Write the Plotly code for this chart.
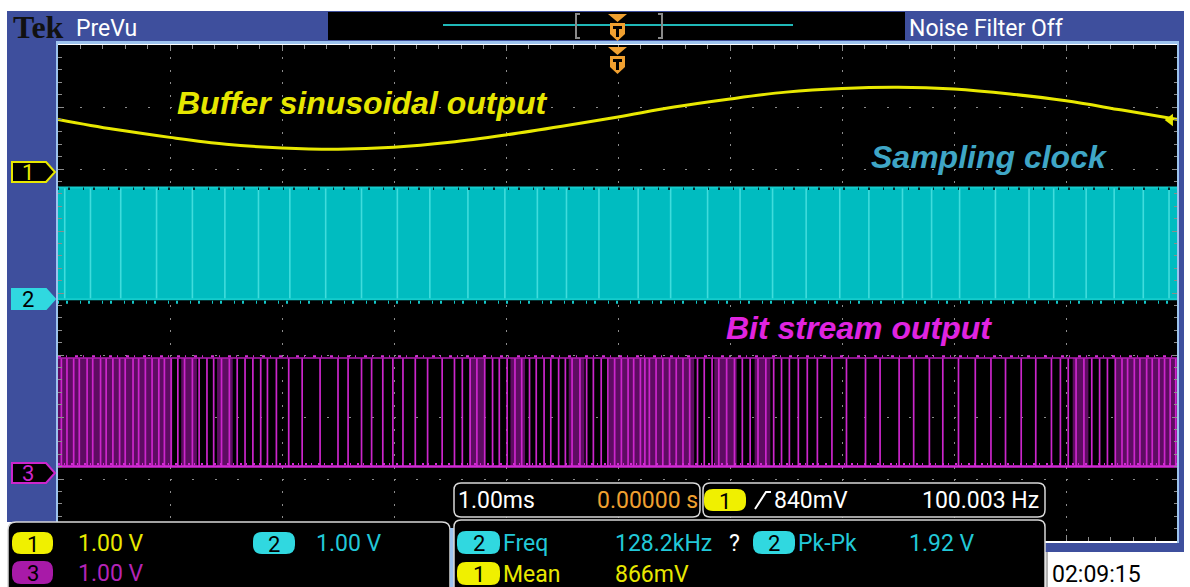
import plotly.graph_objects as go

# ---------------- values read from the oscilloscope screen ----------------
# channel 1 : buffer sinusoidal output (1.00 V/div), samples every 0.5 ms
time_ms = [-5.0, -4.5, -4.0, -3.5, -3.0, -2.5, -2.0, -1.5, -1.0, -0.5, 0.0,
           0.5, 1.0, 1.5, 2.0, 2.5, 3.0, 3.5, 4.0, 4.5, 5.0]
ch1_volts = [0.85, 0.69, 0.56, 0.45, 0.39, 0.37, 0.40, 0.48, 0.60, 0.74, 0.89,
             1.05, 1.18, 1.29, 1.35, 1.37, 1.34, 1.26, 1.15, 1.00, 0.85]
ch1_offset_div = 1.95
trigger_level_v = 0.84

# channel 2 : sampling clock (128.2 kHz -> drawn as a solid band)
ch2_levels_v = [0.0, 1.80]
ch2_offset_div = -0.10
clock_streaks_ms = [-4.94, -4.71, -4.44, -4.12, -3.80, -3.51, -3.21, -2.93, -2.61,
                    -2.29, -1.97, -1.68, -1.34, -1.01, -0.72, -0.46, -0.17, 0.18,
                    0.47, 0.80, 1.09, 1.38, 1.68, 1.98, 2.24, 2.54, 2.80, 3.05,
                    3.37, 3.67, 3.89, 4.18, 4.43, 4.69, 4.92]

# channel 3 : bit stream output
ch3_levels_v = [0.10, 1.85]
ch3_offset_div = -2.90
bit_edges_ms = [-4.97, -4.92, -4.86, -4.81, -4.74, -4.69, -4.62, -4.57, -4.51, -4.45,
                -4.40, -4.33, -4.28, -4.22, -4.16, -4.10, -4.05, -3.99,
                -3.93, -3.87, -3.80, -3.74, -3.67, -3.61, -3.54, -3.47, -3.40, -3.33,
                -3.26, -3.19, -3.13,
                -3.05, -2.94, -2.82, -2.66, -2.50, -2.41, -2.29, -2.20, -2.10, -2.01,
                -1.92, -1.81, -1.70, -1.57,
                -1.46, -1.39, -1.32, -1.26, -1.19, -1.12, -1.06, -0.99, -0.92, -0.86,
                -0.79, -0.73, -0.66, -0.60, -0.53, -0.47, -0.41, -0.34, -0.28, -0.22,
                -0.15, -0.09, -0.03,
                0.03, 0.09, 0.14, 0.20, 0.24, 0.28, 0.34, 0.40, 0.46, 0.52, 0.58, 0.64,
                0.71, 0.77, 0.84, 0.90, 0.97, 1.04, 1.11, 1.18, 1.25, 1.32, 1.39, 1.46,
                1.53, 1.61, 1.69,
                1.78, 1.91, 2.04, 2.21, 2.34, 2.51, 2.64, 2.78, 2.90, 3.04, 3.19, 3.33,
                3.46, 3.60, 3.73, 3.87,
                3.95, 4.02, 4.09, 4.16, 4.23, 4.30, 4.37, 4.44,
                4.50, 4.55, 4.61, 4.66, 4.72, 4.77, 4.83, 4.88, 4.93, 4.98]
bit_dense_ms = [[-5.0, -3.98], [-3.90, -3.76], [-3.58, -3.44], [-1.33, -1.19],
                [-0.96, -0.83], [-0.44, -0.30], [-0.08, 0.68], [0.86, 1.06],
                [1.22, 1.36], [4.06, 4.20], [4.44, 5.0]]

# on-screen readouts
scale_labels = ["1.00 V", "1.00 V", "1.00 V"]
timebase_label = "1.00ms"
position_label = "0.00000 s"
trigger_label = "840mV"
trigger_freq_label = "100.003 Hz"
meas_names = ["Freq", "Pk-Pk", "Mean"]
meas_values = ["128.2kHz", "1.92 V", "866mV"]
clock_label = "02:09:15"
trace_titles = ["Buffer sinusoidal output", "Sampling clock", "Bit stream output"]

# ---------------- colours / fonts ----------------
YEL = "#e8e800"
CYN = "#00bcc0"
CYN_T = "#22c8d8"
MAG = "#cc26cc"
MAG_DARK = "#5e0c62"
FRAME = "#3e4f9d"
LBLUE = "#9cc3ee"
ORANGE = "#f0a030"
UI_FONT = "Roboto, Liberation Sans Narrow, DejaVu Sans Condensed, sans-serif"
LBL_FONT = "Liberation Sans, Arial, sans-serif"
UI_SIZE = 23

W, H = 1190, 587
PL, PR, PT, PB = 58, 1178, 45, 541      # graticule box in pixels


def X(px):
    return (px - PL) / (PR - PL)


def Y(py):
    return (PB - py) / (PB - PT)


def P(x, y):
    return f"{X(x):.5f},{Y(y):.5f}"


def rrect(x0, y0, x1, y1, r):
    return (f"M{P(x0 + r, y0)} L{P(x1 - r, y0)} Q{P(x1, y0)} {P(x1, y0 + r)} "
            f"L{P(x1, y1 - r)} Q{P(x1, y1)} {P(x1 - r, y1)} L{P(x0 + r, y1)} "
            f"Q{P(x0, y1)} {P(x0, y1 - r)} L{P(x0, y0 + r)} Q{P(x0, y0)} {P(x0 + r, y0)} Z")


def poly(pts):
    return "M" + " L".join(P(x, y) for x, y in pts) + " Z"


shapes = []


def rect(x0, y0, x1, y1, fill, line=None, lw=0):
    shapes.append(dict(type="rect", xref="paper", yref="paper", x0=X(x0), x1=X(x1),
                       y0=Y(y1), y1=Y(y0), fillcolor=fill,
                       line=dict(color=line or fill, width=lw)))


def path(d, fill, line=None, lw=0):
    shapes.append(dict(type="path", xref="paper", yref="paper", path=d,
                       fillcolor=fill, line=dict(color=line or fill, width=lw)))


annos = []


def text(px, py, s, color, size, anchor="left", family=UI_FONT, weight="normal",
         style="normal"):
    annos.append(dict(xref="paper", yref="paper", x=X(px), y=Y(py), text=s,
                      showarrow=False, xanchor=anchor, yanchor="middle",
                      font=dict(color=color, size=size, family=family,
                                weight=weight, style=style)))


# ---------------- traces ----------------
fig = go.Figure()

# sampling clock band
c_lo = ch2_offset_div + ch2_levels_v[0]
c_hi = ch2_offset_div + ch2_levels_v[1]
fig.add_trace(go.Scatter(x=[-5, 5, 5, -5, -5], y=[c_hi, c_hi, c_lo, c_lo, c_hi],
                         mode="lines", fill="toself", fillcolor=CYN,
                         line=dict(width=0), hoverinfo="skip"))
sx, sy = [], []
for t in clock_streaks_ms:
    sx += [t, t, None]
    sy += [c_lo, c_hi, None]
fig.add_trace(go.Scatter(x=sx, y=sy, mode="lines",
                         line=dict(color="#40dcdc", width=1.6), hoverinfo="skip"))
fig.add_trace(go.Scatter(x=[-5, 5, None, -5, 5], y=[c_hi, c_hi, None, c_lo, c_lo],
                         mode="lines", line=dict(color="#14cccc", width=2),
                         hoverinfo="skip"))
# ragged edges of the clock band
fig.add_trace(go.Scatter(x=[-5, 5], y=[c_hi - 0.02, c_hi - 0.02], mode="lines",
                         line=dict(color="#062828", width=2.5, dash="1px,9px,2px,13px"),
                         hoverinfo="skip"))
fig.add_trace(go.Scatter(x=[-5, 5], y=[c_lo - 0.05, c_lo - 0.05], mode="lines",
                         line=dict(color="#14c8c8", width=3, dash="1px,7px,2px,12px"),
                         hoverinfo="skip"))

# bit stream
b_lo = ch3_offset_div + ch3_levels_v[0]
b_hi = ch3_offset_div + ch3_levels_v[1]
fx, fy = [], []
for a, b in bit_dense_ms:
    fx += [a, b, b, a, a, None]
    fy += [b_hi, b_hi, b_lo, b_lo, b_hi, None]
fig.add_trace(go.Scatter(x=fx, y=fy, mode="lines", fill="toself",
                         fillcolor=MAG_DARK, line=dict(width=0), hoverinfo="skip"))
bx, by = [], []
for t in bit_edges_ms:
    bx += [t, t, None]
    by += [b_lo, b_hi, None]
fig.add_trace(go.Scatter(x=bx, y=by, mode="lines",
                         line=dict(color=MAG, width=1.7), hoverinfo="skip"))
fig.add_trace(go.Scatter(x=[-5, 5], y=[b_hi, b_hi], mode="lines",
                         line=dict(color="#b41cb6", width=1.5), hoverinfo="skip"))
fig.add_trace(go.Scatter(x=[-5, 5], y=[b_hi + 0.03, b_hi + 0.03], mode="lines",
                         line=dict(color="#d030d0", width=2, dash="3px,5px,1px,8px"),
                         hoverinfo="skip"))
fig.add_trace(go.Scatter(x=[-5, 5], y=[b_lo, b_lo], mode="lines",
                         line=dict(color="#d22ad4", width=2.5), hoverinfo="skip"))
fig.add_trace(go.Scatter(x=[-5, 5], y=[b_lo + 0.04, b_lo + 0.04], mode="lines",
                         line=dict(color="#d22ad4", width=2, dash="2px,4px,1px,6px"),
                         hoverinfo="skip"))

# sine
fig.add_trace(go.Scatter(x=time_ms, y=[ch1_offset_div + v for v in ch1_volts],
                         mode="lines", line=dict(color=YEL, width=3, shape="spline"),
                         hoverinfo="skip"))
# trigger level arrow on the right edge
fig.add_trace(go.Scatter(x=[4.93], y=[ch1_offset_div + trigger_level_v], mode="markers",
                         marker=dict(symbol="triangle-left", size=11, color=YEL),
                         hoverinfo="skip"))

# ---------------- frame & decorations ----------------
rect(7, 11, 1184, 43, FRAME)                 # top band
rect(328, 12, 905, 40, "black")              # record view box
rect(7, 11, 57, 522, FRAME)                  # left column
rect(1178, 11, 1184, 552, FRAME)             # right strip
rect(1045, 543, 1184, 552, FRAME)            # bottom right strip
rect(56, 41, 1179, 44, LBLUE)                # separator under top band
rect(56, 43, 58, 522, LBLUE)                 # left edge
rect(1177, 43, 1179, 543, LBLUE)             # right edge

# record view content
shapes.append(dict(type="line", xref="paper", yref="paper", x0=X(443), x1=X(793),
                   y0=Y(25), y1=Y(25), line=dict(color="#20b8b8", width=2)))
shapes.append(dict(type="path", xref="paper", yref="paper",
                   path=f"M{P(580, 14)} L{P(576, 14)} L{P(576, 38)} L{P(580, 38)}",
                   line=dict(color="#8a8a8a", width=2)))
shapes.append(dict(type="path", xref="paper", yref="paper",
                   path=f"M{P(658, 14)} L{P(662, 14)} L{P(662, 38)} L{P(658, 38)}",
                   line=dict(color="#8a8a8a", width=2)))


def trig_marker(top):
    path(poly([(608, top), (627, top), (617.5, top + 8)]), ORANGE)
    path(poly([(610, top + 9), (625, top + 9), (625, top + 20), (617.5, top + 27),
               (610, top + 20)]), ORANGE)
    path(poly([(613, top + 12), (622, top + 12), (622, top + 15), (619, top + 15),
               (619, top + 23), (616, top + 23), (616, top + 15), (613, top + 15)]),
         "black")


trig_marker(14)
trig_marker(47)


# channel markers on the left
def ch_marker(yc, fill, edge, num, numcolor):
    path(poly([(12, yc - 10), (46, yc - 10), (55, yc), (46, yc + 10), (12, yc + 10)]),
         fill, edge, 2)
    text(28, yc, num, numcolor, 22, anchor="center")


ch_marker(172, "black", YEL, "1", YEL)
ch_marker(299, "#30d8e0", "#30d8e0", "2", "black")
ch_marker(473, "black", MAG, "3", MAG)

# bottom panels
path(rrect(8, 522, 450, 600, 8), "black", "#d8d8d8", 1.5)
rect(450, 528, 454, 587, LBLUE)
path(rrect(454, 483, 700, 517, 7), "black", "#d8d8d8", 1.5)
path(rrect(703, 483, 1045, 517, 7), "black", "#d8d8d8", 1.5)
path(rrect(454, 520, 1045, 600, 7), "black", "#d8d8d8", 1.5)
shapes.append(dict(type="line", xref="paper", yref="paper", x0=X(1047), x1=X(1047),
                   y0=Y(552), y1=Y(587), line=dict(color="#9a9a9a", width=1.5)))


def pill(x0, y0, x1, y1, fill, num):
    path(rrect(x0, y0, x1, y1, 9), fill)
    text((x0 + x1) / 2, (y0 + y1) / 2 + 1, num, "black", 22, anchor="center")


pill(12, 532, 53, 554, "#f0f000", "1")
pill(253, 532, 295, 554, "#30d8e0", "2")
pill(12, 561, 53, 584, "#a81aa8", "3")
pill(704, 489, 746, 511, "#f0f000", "1")
pill(457, 531, 500, 554, "#30d8e0", "2")
pill(753, 531, 795, 554, "#30d8e0", "2")
pill(457, 562, 500, 585, "#f0f000", "1")

# rising-edge glyph
shapes.append(dict(type="path", xref="paper", yref="paper",
                   path=f"M{P(755, 509)} L{P(766, 492)} L{P(771, 492)}",
                   line=dict(color="white", width=2)))

# ---------------- texts ----------------
text(11, 27, "Tek", "#111111", 32, family="Liberation Serif, DejaVu Serif, serif",
     weight="bold")
text(74, 28, "PreVu", "white", UI_SIZE)
text(907, 28, "Noise Filter Off", "white", UI_SIZE)

text(76, 543, scale_labels[0], YEL, UI_SIZE)
text(314, 543, scale_labels[1], CYN_T, UI_SIZE)
text(76, 573, scale_labels[2], "#b424b6", UI_SIZE)

text(456, 500, timebase_label, "white", UI_SIZE)
text(595, 500, position_label, ORANGE, UI_SIZE)
text(772, 500, trigger_label, "white", UI_SIZE)
text(1041, 500, trigger_freq_label, "white", UI_SIZE, anchor="right")

text(501, 543, meas_names[0], CYN_T, UI_SIZE)
text(613, 543, meas_values[0], CYN_T, UI_SIZE)
text(727, 543, "?", "white", UI_SIZE)
text(796, 543, meas_names[1], CYN_T, UI_SIZE)
text(907, 543, meas_values[1], CYN_T, UI_SIZE)
text(501, 574, meas_names[2], YEL, UI_SIZE)
text(613, 574, meas_values[2], YEL, UI_SIZE)

text(1050, 574, clock_label, "black", UI_SIZE)

text(362, 103, trace_titles[0], "#e6e600", 32, anchor="center", family=LBL_FONT,
     weight="bold", style="italic")
text(989, 157, trace_titles[1], "#3fa6c6", 32, anchor="center", family=LBL_FONT,
     weight="bold", style="italic")
text(859, 328, trace_titles[2], "#e024e0", 32, anchor="center", family=LBL_FONT,
     weight="bold", style="italic")

# ---------------- layout ----------------
fig.update_layout(
    width=W, height=H,
    margin=dict(l=PL, r=W - PR, t=PT, b=H - PB, pad=0),
    paper_bgcolor="white", plot_bgcolor="black",
    showlegend=False,
    shapes=shapes, annotations=annos,
    xaxis=dict(range=[-5, 5], dtick=1, showgrid=True, gridcolor="#8c8c8c",
               gridwidth=1, griddash="2px,10.4px", zeroline=False,
               showticklabels=False, ticks="inside", ticklen=6, tickcolor="#8c8c8c",
               mirror="ticks", showline=False, fixedrange=True,
               minor=dict(dtick=0.2, ticks="inside", ticklen=4, tickcolor="#8c8c8c",
                          showgrid=False)),
    yaxis=dict(range=[-4, 4], dtick=1, showgrid=True, gridcolor="#8c8c8c",
               gridwidth=1, griddash="2px,20.4px", zeroline=False,
               showticklabels=False, ticks="inside", ticklen=6, tickcolor="#8c8c8c",
               mirror="ticks", showline=False, fixedrange=True,
               minor=dict(dtick=0.2, ticks="inside", ticklen=4, tickcolor="#8c8c8c",
                          showgrid=False)),
)

fig.write_html("out.html", config={"displayModeBar": False},
               post_script="document.body.style.margin='0';")
